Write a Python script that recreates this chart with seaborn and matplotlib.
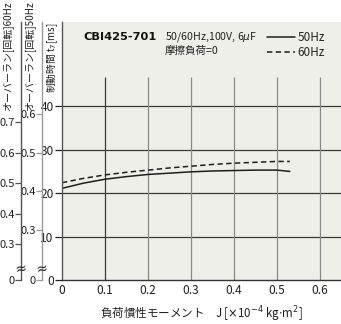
import numpy as np
import pandas as pd
import seaborn as sns
import matplotlib.pyplot as plt
from matplotlib.lines import Line2D

# Braking time vs. load inertia (CBI425-701)
inertia = [0, 0.05, 0.1, 0.15, 0.2, 0.25, 0.3, 0.35, 0.4, 0.45, 0.5, 0.53]
brake_50hz = [21.1, 22.3, 23.2, 23.8, 24.3, 24.6, 24.9, 25.1, 25.2, 25.3, 25.3, 25.0]
brake_60hz = [22.4, 23.4, 24.2, 24.8, 25.3, 25.8, 26.2, 26.6, 26.9, 27.1, 27.3, 27.3]
series_names = ["50Hz", "60Hz"]

x_ticks = [0, 0.1, 0.2, 0.3, 0.4, 0.5, 0.6]
x_tick_labels = ["0", "0.1", "0.2", "0.3", "0.4", "0.5", "0.6"]
t_ticks = [0, 10, 20, 30, 40]
over50_ticks = [0.3, 0.4, 0.5, 0.6]
over60_ticks = [0.3, 0.4, 0.5, 0.6, 0.7]

df = pd.DataFrame({
    "J": inertia * 2,
    "t": brake_50hz + brake_60hz,
    "freq": [series_names[0]] * len(inertia) + [series_names[1]] * len(inertia),
})

sns.set_theme(style="white")
plt.rcParams["font.family"] = ["Noto Sans CJK JP", "DejaVu Sans"]
plt.rcParams["mathtext.fontset"] = "dejavusans"

W, H = 341, 324
PT = 72 / 100  # points per pixel at 100 dpi
fig = plt.figure(figsize=(W / 100, H / 100), dpi=100)
fig.patch.set_facecolor("white")

L, R, B, T = 62, 341, 280, 22
rect = [L / W, (H - B) / H, (R - L) / W, (B - T) / H]
ax = fig.add_axes(rect)
ax.set_facecolor("#efefe9")

ink = "#1e1e1e"
sns.lineplot(data=df, x="J", y="t", hue="freq", style="freq",
             palette={"50Hz": ink, "60Hz": ink},
             dashes={"50Hz": "", "60Hz": (3.5, 2.2)},
             linewidth=1.1, legend=False, ax=ax)

ax.set_xlim(0, 0.649)
ax.set_ylim(0, 59.4)

# grid
ax.hlines(t_ticks[1:], 0, 0.649, colors="#3a3a3a", linewidth=0.9, zorder=1)
ax.vlines(x_ticks[1:], 0, 46.8, colors=["#3a3a3a"] + ["#8a8a8a"] * 5,
          linewidth=0.9, zorder=1)

ax.set_xticks(x_ticks)
ax.set_xticklabels(x_tick_labels)
ax.set_yticks(t_ticks)
ax.tick_params(axis="x", length=0, pad=3, labelsize=8.6, colors="#222")
ax.tick_params(axis="y", left=True, length=5, width=0.9, pad=1,
               labelsize=8.6, colors="#222")
for s in ["top", "right"]:
    ax.spines[s].set_visible(False)
ax.spines["bottom"].set_color("#333")
ax.spines["bottom"].set_linewidth(1.0)
ax.spines["left"].set_color("#555")
ax.spines["left"].set_linewidth(1.0)
ax.set_xlabel("")
ax.set_ylabel("")
fig.text((L + R) / 2 / W, 1 - 318 / H,
         r"負荷慣性モーメント　J [$\times$10$^{-4}$ kg$\cdot$m$^{2}$]",
         fontsize=8.3, color="#222", ha="center", va="baseline")


def side_axis(offset_px, lo, hi, ticks, spine_color):
    a = fig.add_axes(rect)
    a.patch.set_visible(False)
    for s in ["top", "right", "bottom"]:
        a.spines[s].set_visible(False)
    a.spines["left"].set_position(("outward", offset_px * PT))
    a.spines["left"].set_color(spine_color)
    a.spines["left"].set_linewidth(1.0)
    a.set_ylim(lo, hi)
    a.set_xticks([])
    a.set_yticks([lo] + ticks)
    a.set_yticklabels(["0"] + [f"{v:.1f}" for v in ticks])
    a.tick_params(axis="y", left=True, length=4, width=0.9, pad=0.5,
                  labelsize=8, colors="#222")
    a.tick_params(axis="y", which="both", color=spine_color)
    # axis break mark near the bottom
    a.text(-offset_px / (R - L), 11 / (B - T), "≈", transform=a.transAxes,
           ha="center", va="center", fontsize=10, color="#222",
           family=["DejaVu Sans"], rotation=10)
    return a


# overrun (rotations) at 50Hz and 60Hz
side_axis(20, 0.17, 0.84, over50_ticks, "#9a9a9a")
side_axis(41, 0.182, 1.028, over60_ticks, "#555555")

fig.text(9 / W, 1 - 1 / H, "オーバーラン[回転]60Hz", rotation=90,
         ha="center", va="top", fontsize=7.2, color="#222")
fig.text(31 / W, 1 - 1 / H, "オーバーラン[回転]50Hz", rotation=90,
         ha="center", va="top", fontsize=7.2, color="#222")
fig.text(52 / W, 1 - 22 / H, r"制動時間 t$_{7}$[ms]", rotation=90,
         ha="center", va="top", fontsize=7, color="#222")

# header texts
fig.text(83 / W, 1 - 37 / H, "CBI425-701", fontsize=8.2, fontweight="bold",
         ha="left", va="center", color="#111", family=["DejaVu Sans"])
fig.text(165 / W, 1 - 37 / H, r"50/60Hz,100V, 6$\mu$F", fontsize=7.6,
         ha="left", va="center", color="#222")
fig.text(165 / W, 1 - 51 / H, "摩擦負荷=0", fontsize=7.6,
         ha="left", va="center", color="#222")

handles = [Line2D([], [], color=ink, lw=1.1),
           Line2D([], [], color=ink, lw=1.1, dashes=(3.5, 2.2))]
ax.legend(handles, series_names, loc="upper left",
          bbox_to_anchor=((267 - L) / (R - L), 1 - (31 - T) / (B - T)),
          frameon=False, fontsize=8.5, handlelength=2.4, handletextpad=0.2,
          labelspacing=0.15, borderpad=0, borderaxespad=0)

fig.savefig("out.png", dpi=100)
